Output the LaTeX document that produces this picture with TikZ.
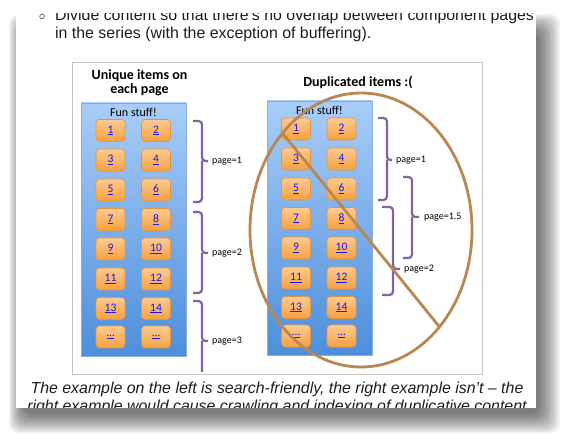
\documentclass[tikz,border=0pt]{standalone}
\usepackage{fontspec}
\setmainfont{Liberation Sans}
\newfontfamily\calib{Carlito}
\definecolor{btntop}{HTML}{FCCB92}
\definecolor{btnbot}{HTML}{F6A040}
\definecolor{btnline}{HTML}{E3963F}
\definecolor{boxtop}{HTML}{A9CDF8}
\definecolor{boxbot}{HTML}{4D8EDB}
\definecolor{boxline}{HTML}{86AEDD}
\definecolor{brk}{HTML}{8064A2}
\definecolor{nogo}{HTML}{B98852}
\definecolor{linkblue}{HTML}{1A1AE6}
\definecolor{framegray}{HTML}{C6C6C6}
\definecolor{txt}{HTML}{1E1E1E}
\begin{document}
\begin{tikzpicture}[x=1pt,y=-1pt,
  btn/.style={draw=btnline, line width=0.6pt, rounded corners=3.5pt, minimum width=29pt, minimum height=22pt,
    top color=btntop, bottom color=btnbot, inner sep=0pt, text=linkblue,
    font=\calib\fontsize{11.5}{12}\selectfont},
  panel/.style={draw=boxline, line width=0.6pt, top color=boxtop, bottom color=boxbot},
  ttl/.style={font=\calib\bfseries\fontsize{14}{16}\selectfont, anchor=base, inner sep=0pt},
  fun/.style={font=\calib\fontsize{12}{14}\selectfont, inner sep=0pt},
  brace/.style={draw=brk, line width=2.2pt, rounded corners=3.5pt},
  plab/.style={font=\calib\fontsize{10}{12}\selectfont, anchor=west, inner sep=0pt},
  bodytxt/.style={font=\fontsize{15.9}{18}\selectfont, text=txt, anchor=base west, inner sep=0pt},
  captxt/.style={font=\itshape\fontsize{15.9}{18}\selectfont, text=txt, anchor=base, inner sep=0pt},
  ring/.style={draw=nogo, line width=2.8pt}
]
\useasboundingbox (0,0) rectangle (566,441);
% shadow of the page
\foreach \i in {0,...,15}
  \fill[black, opacity=0.042, rounded corners=10pt] (24-\i, 32-1.2*\i) rectangle (539+1.4*\i, 414+1.3*\i);
% page
\fill[white] (16,14) rectangle (536,408);
\begin{scope}
  \clip (16,14) rectangle (536,408);
  \draw[txt!70, line width=0.7pt] (42,16.5) circle (2.3pt);
  \node[bodytxt] (l1) at (55,20.5) {Divide content so that there's no overlap between component pages};
  \node[bodytxt] (l2) at (55,38.5) {in the series (with the exception of buffering).};
  \node[captxt] (c1) at (277,394) {The example on the left is search-friendly, the right example isn't -- the};
  \node[captxt] (c2) at (277,412) {right example would cause crawling and indexing of duplicative content};
\end{scope}
% figure frame
\draw[framegray, line width=0.8pt] (72,62) rectangle (482,374);
\begin{scope}
\clip (72,62) rectangle (482,372);
% titles
\node[ttl] (t1) at (139.5,80) {Unique items on};
\node[ttl] (t2) at (139.5,94) {each page};
\node[ttl] (t3) at (358,87) {Duplicated items :(};
% panels
\path[panel] (81,103) rectangle (186,356);
\path[panel] (267,101) rectangle (372,355);
\node[fun] (f1) at (133.5,112) {Fun stuff!};
\node[fun] (f2) at (319.5,110) {Fun stuff!};
% buttons, left
\foreach \y/\a/\b/\r in {130.5/1/2/1,160/3/4/2,190/5/6/3,219.5/7/8/4,249/9/10/5,279/11/12/6,308.5/13/14/7,337/\ldots/\ldots/8}{
  \node[btn] (la\r) at (110.5,\y) {\underline{\a}};
  \node[btn] (lb\r) at (156,\y) {\underline{\b}};
}
% buttons, right
\foreach \y/\a/\b/\r in {129/1/2/1,159/3/4/2,189/5/6/3,218.5/7/8/4,248/9/10/5,278/11/12/6,307.5/13/14/7,336/\ldots/\ldots/8}{
  \node[btn] (ra\r) at (296,\y) {\underline{\a}};
  \node[btn] (rb\r) at (341.5,\y) {\underline{\b}};
}
% braces, left
\draw[brace] (193,121) -| (202,161) -- (208,161) (202,161) |- (193,202);
\node[plab] (p1) at (212,161) {page=1};
\draw[brace] (193,212) -| (202,253) -- (208,253) (202,253) |- (193,293);
\node[plab] (p2) at (212,253) {page=2};
\draw[brace] (193,301) -| (202,341) -- (208,341) (202,341) |- (193,382);
\node[plab] (p3) at (212,341) {page=3};
% braces, right
\draw[brace] (378,118) -| (387,160) -- (392,160) (387,160) |- (378,200);
\node[plab] (q1) at (396,160) {page=1};
\draw[brace] (403,177) -| (412,217) -- (419,217) (412,217) |- (403,258);
\node[plab] (q2) at (424,217) {page=1.5};
\draw[brace] (382,207) -| (393,269) -- (400,269) (393,269) |- (382,295);
\node[plab] (q3) at (404,269) {page=2};
% no-go sign
\coordinate (ec) at (361,230);
\draw[ring] (ec) ellipse [x radius=111, y radius=137];
\coordinate (s1) at (282.5,133.1);
\coordinate (s2) at (439.5,326.9);
\draw[ring] (s1) -- (s2);
\end{scope}
\end{tikzpicture}
\end{document}
